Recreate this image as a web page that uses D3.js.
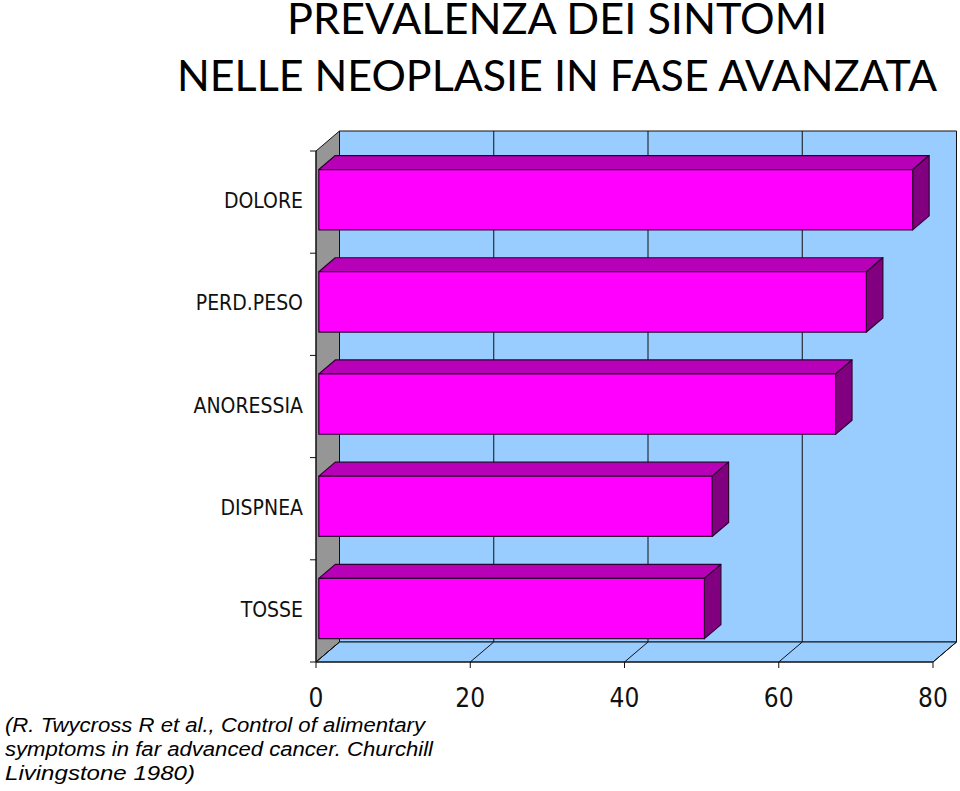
<!DOCTYPE html>
<html>
<head>
<meta charset="utf-8">
<script src="https://cdn.jsdelivr.net/npm/d3@7"></script>
<style>
  html, body { margin: 0; padding: 0; background: #fff; }
  svg { display: block; }
</style>
</head>
<body>
<svg id="chart" width="960" height="791"></svg>
<script>
const titleLines = ["PREVALENZA DEI SINTOMI", "NELLE NEOPLASIE IN FASE AVANZATA"];
const categories = ["DOLORE", "PERD.PESO", "ANORESSIA", "DISPNEA", "TOSSE"];
const values = [77, 71, 67, 51, 50];
const xTicks = [0, 20, 40, 60, 80];
const citation = [
  "(R. Twycross R et al., Control of alimentary",
  "symptoms in far advanced cancer. Churchill",
  "Livingstone 1980)"
];

(function () {
const svg = d3.select("#chart");

// Geometry
const x = d3.scaleLinear().domain([0, 80]).range([316, 933]);
const y = d3.scaleBand().domain(categories).range([151, 662]).paddingInner(0.41).paddingOuter(0.205);
const yEdges = d3.scaleBand().domain(categories).range([151, 662]).padding(0);
const DX = 23.5, DY = -20;         // wall depth
const f0 = 0.12, f1 = 0.82;        // bar depth fractions
const plotTop = 151, plotBottom = 662;

const line = d3.line();

// Left wall
svg.append("path")
  .attr("d", line([[x(0), plotTop], [x(0) + DX, plotTop + DY], [x(0) + DX, plotBottom + DY], [x(0), plotBottom]]) + "Z")
  .attr("fill", "#969696").attr("stroke", "#111").attr("stroke-width", 1);

// Back wall
svg.append("path")
  .attr("d", line([[x(0) + DX, plotTop + DY], [x(80) + DX, plotTop + DY], [x(80) + DX, plotBottom + DY], [x(0) + DX, plotBottom + DY]]) + "Z")
  .attr("fill", "#99CCFF").attr("stroke", "#111").attr("stroke-width", 1);

// Floor
svg.append("path")
  .attr("d", line([[x(0), plotBottom], [x(0) + DX, plotBottom + DY], [x(80) + DX, plotBottom + DY], [x(80), plotBottom]]) + "Z")
  .attr("fill", "#99CCFF").attr("stroke", "#111").attr("stroke-width", 1);

// Gridlines on back wall
svg.append("g").selectAll("line").data(xTicks.filter(t => t > 0 && t < 80)).join("line")
  .attr("x1", d => x(d) + DX).attr("x2", d => x(d) + DX)
  .attr("y1", plotTop + DY).attr("y2", plotBottom + DY)
  .attr("stroke", "#111").attr("stroke-width", 1);

// Floor diagonals
svg.append("g").selectAll("line").data(xTicks).join("line")
  .attr("x1", d => x(d)).attr("y1", plotBottom)
  .attr("x2", d => x(d) + DX).attr("y2", plotBottom + DY)
  .attr("stroke", "#111").attr("stroke-width", 1);

// Bars
const bars = svg.append("g");
categories.forEach((c, i) => {
  const v = values[i];
  const ox0 = DX * f0, oy0 = DY * f0, ox1 = DX * f1, oy1 = DY * f1;
  const y0 = y(c), y1 = y(c) + y.bandwidth();
  const xl = x(0), xr = x(v);
  const g = bars.append("g");
  g.append("path")
    .attr("d", line([[xl + ox0, y0 + oy0], [xl + ox1, y0 + oy1], [xr + ox1, y0 + oy1], [xr + ox0, y0 + oy0]]) + "Z")
    .attr("fill", "#B800B8").attr("stroke", "#300030").attr("stroke-width", 1.2).attr("stroke-linejoin", "round");
  g.append("path")
    .attr("d", line([[xr + ox0, y0 + oy0], [xr + ox1, y0 + oy1], [xr + ox1, y1 + oy1], [xr + ox0, y1 + oy0]]) + "Z")
    .attr("fill", "#800080").attr("stroke", "#300030").attr("stroke-width", 1.2).attr("stroke-linejoin", "round");
  g.append("path")
    .attr("d", line([[xl + ox0, y0 + oy0], [xr + ox0, y0 + oy0], [xr + ox0, y1 + oy0], [xl + ox0, y1 + oy0]]) + "Z")
    .attr("fill", "#FF00FF").attr("stroke", "#300030").attr("stroke-width", 1.2).attr("stroke-linejoin", "round");
});

// Left axis
svg.append("line").attr("x1", x(0)).attr("x2", x(0)).attr("y1", plotTop).attr("y2", plotBottom)
  .attr("stroke", "#111").attr("stroke-width", 1);
const edgeVals = categories.map(c => yEdges(c)).concat([plotBottom]);
svg.append("g").selectAll("line").data(edgeVals).join("line")
  .attr("x1", x(0) - 6).attr("x2", x(0)).attr("y1", d => d).attr("y2", d => d)
  .attr("stroke", "#111").attr("stroke-width", 1);

// Category labels
svg.append("g").selectAll("text").data(categories).join("text")
  .attr("x", 303)
  .attr("y", d => y(d) + y.bandwidth() / 2 - 1)
  .attr("text-anchor", "end")
  .attr("dominant-baseline", "central")
  .attr("font-family", "'Liberation Sans Narrow', 'DejaVu Sans Condensed', sans-serif")
  .attr("font-size", 21)
  .attr("fill", "#111")
  .text(d => d);

// Bottom axis
svg.append("line").attr("x1", x(0)).attr("x2", x(80)).attr("y1", plotBottom).attr("y2", plotBottom)
  .attr("stroke", "#111").attr("stroke-width", 1);
svg.append("g").selectAll("line").data(xTicks).join("line")
  .attr("x1", d => x(d)).attr("x2", d => x(d)).attr("y1", plotBottom).attr("y2", plotBottom + 6)
  .attr("stroke", "#111").attr("stroke-width", 1);
svg.append("g").selectAll("text").data(xTicks).join("text")
  .attr("x", d => x(d)).attr("y", 707)
  .attr("text-anchor", "middle")
  .attr("font-family", "'DejaVu Sans Condensed', 'Liberation Sans', sans-serif")
  .attr("font-size", 26)
  .attr("fill", "#111")
  .text(d => d);

// Title
svg.append("g").selectAll("text").data(titleLines).join("text")
  .attr("x", 557)
  .attr("y", (d, i) => 34 + i * 57)
  .attr("text-anchor", "middle")
  .attr("font-family", "Lato, 'Noto Sans', sans-serif")
  .attr("font-size", 43)
  .attr("textLength", (d, i) => i === 0 ? 540 : 760)
  .attr("lengthAdjust", "spacingAndGlyphs")
  .attr("fill", "#000")
  .text(d => d);

// Citation
const citeWidths = [420, 428, 190];
svg.append("g").selectAll("text").data(citation).join("text")
  .attr("x", 5)
  .attr("y", (d, i) => 732 + i * 24)
  .attr("font-family", "'Liberation Sans', Arial, sans-serif")
  .attr("font-style", "italic")
  .attr("font-size", 20)
  .attr("textLength", (d, i) => citeWidths[i])
  .attr("lengthAdjust", "spacingAndGlyphs")
  .attr("fill", "#000")
  .text(d => d);
})();
</script>
</body>
</html>
